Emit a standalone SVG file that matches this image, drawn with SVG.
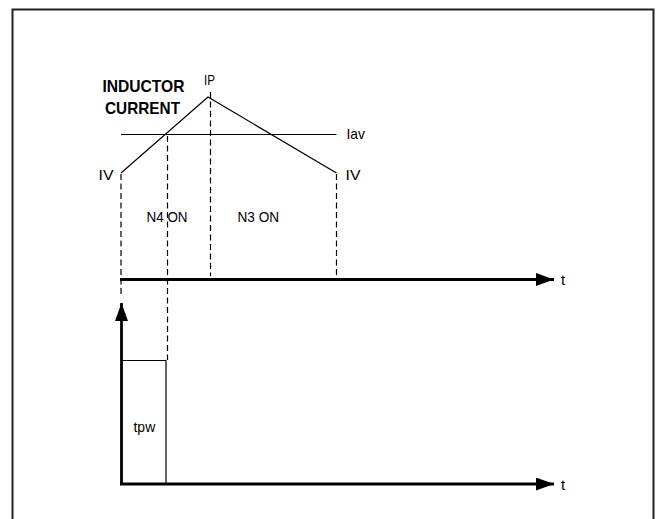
<svg xmlns="http://www.w3.org/2000/svg" width="656" height="519" viewBox="0 0 656 519">
<defs>
<style>
.frame{fill:none;stroke:#222;stroke-width:2}
.thin{fill:none;stroke:#000;stroke-width:1.2}
.dash{fill:none;stroke:#000;stroke-width:1.2;stroke-dasharray:6,3.5}
.axis{fill:none;stroke:#000;stroke-width:2.8}
.lbl{font-family:"Liberation Sans",Arial,sans-serif;font-size:15px;fill:#000}
.bold{font-family:"Liberation Sans",Arial,sans-serif;font-size:17px;font-weight:bold;fill:#000}
</style>
<marker id="ah" markerUnits="userSpaceOnUse" markerWidth="20" markerHeight="14" refX="18" refY="6.5" orient="auto">
<path d="M0,0 L18,6.5 L0,13 Z" fill="#000"/>
</marker>
</defs>
<rect x="0" y="0" width="656" height="519" fill="#fff"/>
<path class="frame" d="M12.5,525 V9.5 H653.5 V525"/>
<g id="connectors">
<line class="axis" x1="120" y1="279.5" x2="554" y2="279.5" marker-end="url(#ah)"/>
<line class="axis" x1="120" y1="484" x2="554" y2="484" marker-end="url(#ah)"/>
<line class="axis" x1="121.5" y1="485" x2="121.5" y2="303" marker-end="url(#ah)"/>
<line class="dash" x1="121" y1="174" x2="121" y2="294"/>
<line class="dash" x1="167.5" y1="136" x2="167.5" y2="360"/>
<line class="dash" x1="210.5" y1="92" x2="210.5" y2="276"/>
<line class="dash" x1="336.5" y1="174" x2="336.5" y2="280"/>
</g>
<g id="waveform">
<polyline class="thin" points="121,173 208,97 336.5,173"/>
<line class="thin" x1="121" y1="134.5" x2="336.5" y2="134.5"/>
</g>
<g id="pulse">
<polyline class="thin" points="122,360.5 166,360.5 166,484"/>
</g>
<g id="labels">
<text class="bold" x="102.5" y="91.7" textLength="82" lengthAdjust="spacingAndGlyphs">INDUCTOR</text>
<text class="bold" x="105" y="114.3" textLength="75" lengthAdjust="spacingAndGlyphs">CURRENT</text>
<text class="lbl" x="204" y="85" textLength="11" lengthAdjust="spacingAndGlyphs">IP</text>
<text class="lbl" x="346.5" y="139" textLength="18.5" lengthAdjust="spacingAndGlyphs">Iav</text>
<text class="lbl" x="98.5" y="180" textLength="15" lengthAdjust="spacingAndGlyphs">IV</text>
<text class="lbl" x="345.5" y="180" textLength="15" lengthAdjust="spacingAndGlyphs">IV</text>
<text class="lbl" x="146.5" y="221.7" textLength="41" lengthAdjust="spacingAndGlyphs">N4 ON</text>
<text class="lbl" x="237.5" y="221.7" textLength="41.5" lengthAdjust="spacingAndGlyphs">N3 ON</text>
<text class="lbl" x="133.5" y="432" textLength="21.7" lengthAdjust="spacingAndGlyphs">tpw</text>
<text class="lbl" x="561" y="285">t</text>
<text class="lbl" x="561" y="489.5">t</text>
</g>
</svg>
